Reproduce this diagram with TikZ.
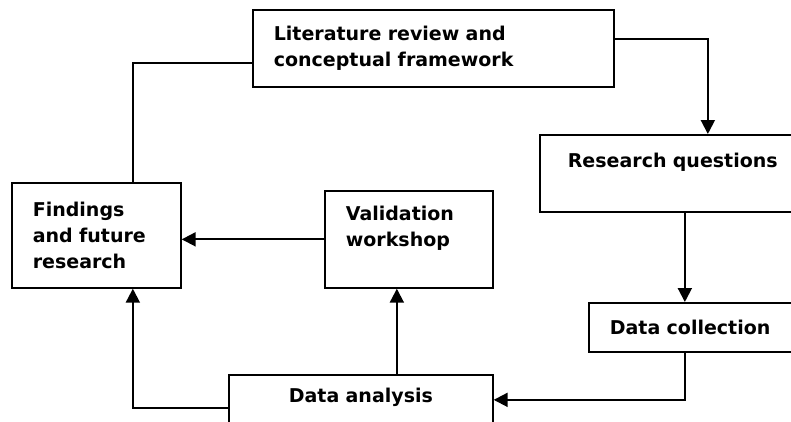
\documentclass[tikz,border=0pt]{standalone}
\usepackage{fontspec}
\setmainfont{DejaVu Sans}
\usetikzlibrary{arrows.meta}
\begin{document}
\begin{tikzpicture}[x=1pt,y=-1pt,
  box/.style={draw, line width=1.7pt, rectangle, anchor=north west, align=left,
    font=\fontsize{19}{26}\selectfont\bfseries, inner xsep=21pt, inner ysep=0pt},
  conn/.style={line width=2pt},
  arr/.style={conn, -{Triangle[length=14pt,width=14pt]}}]
\useasboundingbox (0,0) rectangle (791,421);
\clip (0,0) rectangle (791,421);
\node[box, text width=319pt, minimum height=77pt] (lit) at (252,9) {Literature review and\\conceptual framework};
\node[box, inner xsep=28pt, text width=214pt, minimum height=77pt] (rq) at (539,134) {Research questions\\ \mbox{}};
\node[box, text width=208pt, minimum height=49pt] (dc) at (588,302) {Data collection};
\node[box, align=center, text width=222pt, minimum height=66pt] (da) at (228,374) {Data analysis\\ \mbox{}};
\node[box, text width=126pt, minimum height=97pt] (val) at (324,190) {Validation\\workshop\\ \mbox{}};
\node[box, text width=127pt, minimum height=105pt] (fin) at (11,182) {Findings\\and future\\research};
\draw[conn] ([yshift=-14.5pt]lit.west) -| ([xshift=36.5pt]fin.north);
\draw[arr] ([yshift=9.5pt]lit.east) -| ([xshift=33pt]rq.north);
\draw[arr] ([xshift=10pt]rq.south) -- ([xshift=-29pt]dc.north);
\draw[arr] ([xshift=-29pt]dc.south) |- ([yshift=8pt]da.east);
\draw[arr] ([xshift=36pt]da.north) -- ([xshift=-12pt]val.south);
\draw[arr] (val.west) -- (val.west -| fin.east);
\draw[arr] (da.west) -| ([xshift=36.5pt]fin.south);
\end{tikzpicture}
\end{document}
